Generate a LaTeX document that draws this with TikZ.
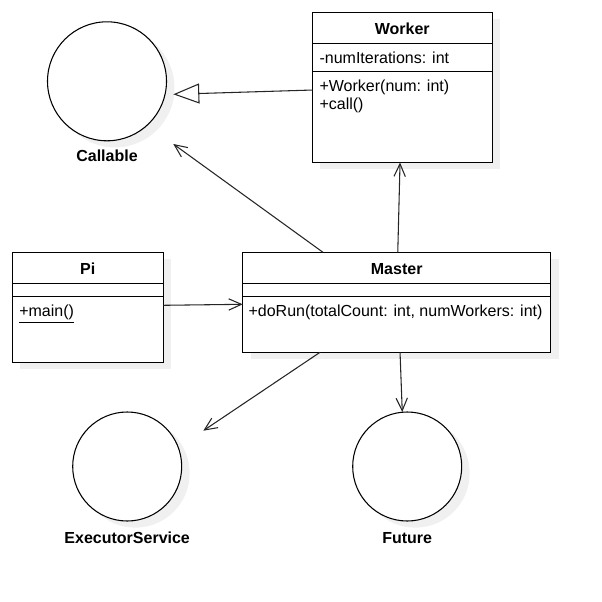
\documentclass[tikz,border=0pt]{standalone}
\usepackage{fontspec}
\setmainfont{Liberation Sans}
\usetikzlibrary{arrows.meta,shadows}

\begin{document}
\begin{tikzpicture}[
  x=0.75pt, y=-0.75pt,
  font=\fontsize{12}{14}\selectfont,
  softshadow/.style={drop shadow={shadow xshift=6pt, shadow yshift=-5pt, fill=black!6, opacity=1}},
  classbox/.style={rectangle, draw=black, fill=white, line width=0.8pt, inner sep=0pt, outer sep=0pt, softshadow},
  iface/.style={circle, draw=black, fill=white, line width=0.8pt, inner sep=0pt, outer sep=0pt, softshadow},
  ctitle/.style={font=\fontsize{12}{14}\selectfont\bfseries, inner sep=0pt, text height=9pt, text depth=2.5pt},
  member/.style={anchor=west, inner sep=0pt, text height=9pt, text depth=2.5pt},
  compart/.style={line width=0.75pt},
  arw/.style={-{Straight Barb[length=9.5pt, width=8.5pt]}, line width=0.8pt, draw=black!85},
  realize/.style={-{Triangle[open, length=19.5pt, width=15pt]}, line width=0.8pt, draw=black!85}
  ]

\useasboundingbox (0,0) rectangle (601,602);

% interfaces
\node [iface, minimum size=89.25pt] (callable) at (107,81.3) {};
\node [ctitle] (callable-l) at (107,157.5) {Callable};
\node [iface, minimum size=81.75pt] (executor) at (127.2,466.5) {};
\node [ctitle] (executor-l) at (127.2,539) {ExecutorService};
\node [iface, minimum size=81.75pt] (future) at (407.2,466.5) {};
\node [ctitle] (future-l) at (407.2,539) {Future};

% classes
\node [classbox, minimum width=135pt, minimum height=112.5pt] (worker) at (402.3,87.5) {};
\node [ctitle] (worker-t) at (402.3,29.8) {Worker};
\draw [compart] (worker.west |- 0,43.5) -- (worker.east |- 0,43.5);
\node [member] (worker-a) at (319.3,59) {-numIterations: int};
\draw [compart] (worker.west |- 0,71.7) -- (worker.east |- 0,71.7);
\node [member] (worker-m1) at (319.3,87.5) {+Worker(num: int)};
\node [member] (worker-m2) at (319.3,105) {+call()};

\node [classbox, minimum width=113.25pt, minimum height=82.5pt] (pi) at (87.8,307.3) {};
\node [ctitle] (pi-t) at (87.8,269.8) {Pi};
\draw [compart] (pi.west |- 0,283.5) -- (pi.east |- 0,283.5);
\draw [compart] (pi.west |- 0,296) -- (pi.east |- 0,296);
\node [member] (pi-m) at (19,312.5) {\underline{+main()}};

\node [classbox, minimum width=231pt, minimum height=75pt] (master) at (396.7,302.3) {};
\node [ctitle] (master-t) at (396.7,269.8) {Master};
\draw [compart] (master.west |- 0,283.5) -- (master.east |- 0,283.5);
\draw [compart] (master.west |- 0,296) -- (master.east |- 0,296);
\node [member] (master-m) at (248.3,312.5) {+doRun(totalCount: int, numWorkers: int)};

% arrow ends near the interfaces
\coordinate (callable-r) at ([shift={(66.3,13)}]callable.center);
\coordinate (callable-br) at ([shift={(66.3,62.7)}]callable.center);
\coordinate (executor-tr) at ([shift={(76.1,-35.8)}]executor.center);

\draw [realize] ([yshift=-1.9pt]worker.west) -- (callable-r);
\draw [arw] ([xshift=-55.3pt]master.north) -- (callable-br);
\draw [arw] ([xshift=0.8pt]master.north) -- ([xshift=-1.7pt]worker.south);
\draw [arw] ([yshift=1.5pt]pi.east) -- ([yshift=-1.5pt]master.west);
\draw [arw] ([xshift=-57.5pt]master.south) -- (executor-tr);
\draw [arw] ([xshift=2.5pt]master.south) -- ([xshift=-3.7pt]future.north);

\end{tikzpicture}
\end{document}
